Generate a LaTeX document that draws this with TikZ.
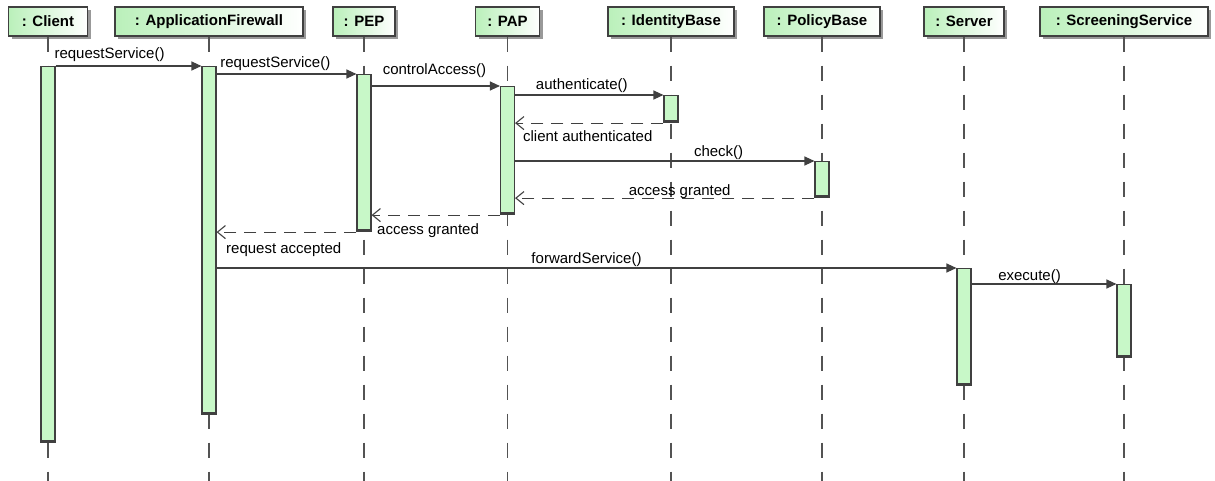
\documentclass[tikz,border=0pt]{standalone}
\usepackage{fontspec}
\setmainfont{Liberation Sans}
\usetikzlibrary{arrows.meta, shadows}
\definecolor{barGreen}{RGB}{200,248,200}
\definecolor{headGreen}{RGB}{186,240,186}
\definecolor{edgeGray}{RGB}{64,64,64}
\tikzset{
  object/.style={
    rectangle, minimum height=29pt, inner sep=0pt,
    draw=edgeGray, line width=1.1pt, left color=headGreen, right color=white,
    font=\fontsize{15pt}{17pt}\selectfont\bfseries,
    drop shadow={shadow xshift=3pt, shadow yshift=-3pt, fill=black!40, opacity=1}
  },
  lifeline/.style={draw=edgeGray!90, line width=1.2pt, dash pattern=on 15pt off 14pt},
  bar/.style={
    rectangle, anchor=north, minimum width=14pt, inner sep=0pt,
    draw=edgeGray, line width=1.1pt, fill=barGreen,
    path picture={\fill[edgeGray] ([yshift=2.5pt]path picture bounding box.south west)
      rectangle (path picture bounding box.south east);}
  },
  call/.style={draw=edgeGray, line width=1.1pt, -{Triangle[length=10pt, width=9pt]}},
  reply/.style={draw=edgeGray, line width=1.1pt, dash pattern=on 12pt off 8pt,
    -{Straight Barb[length=8pt, width=13pt]}},
  msg/.style={font=\fontsize{15pt}{17pt}\selectfont, anchor=base, inner sep=0pt}
}
\begin{document}
\begin{tikzpicture}[x=1pt, y=-1pt]
  \useasboundingbox (0,0) rectangle (1215,481);
  \coordinate (bottom) at (0,481);

  % objects
  \node[object, minimum width=79pt] (client) at (48,21.5) {: Client};
  \node[object, minimum width=188pt] (fw) at (209,21.5) {: ApplicationFirewall};
  \node[object, minimum width=62pt] (pep) at (364,21.5) {: PEP};
  \node[object, minimum width=64pt] (pap) at (507.5,21.5) {: PAP};
  \node[object, minimum width=126pt] (idb) at (671,21.5) {: IdentityBase};
  \node[object, minimum width=116pt] (pb) at (822,21.5) {: PolicyBase};
  \node[object, minimum width=80pt] (srv) at (964,21.5) {: Server};
  \node[object, minimum width=168pt] (scr) at (1124,21.5) {: ScreeningService};

  % lifelines
  \foreach \o in {client,fw,pep,pap,idb,pb,srv,scr}
    \draw[lifeline] (\o.south) -- (\o.south |- bottom);

  % activations
  \node[bar, minimum height=376pt] (cbar) at (48,66) {};
  \node[bar, minimum height=348pt] (fwbar) at (209,66) {};
  \node[bar, minimum height=157pt] (pepbar) at (364,74) {};
  \node[bar, minimum height=128pt] (papbar) at (507.5,86) {};
  \node[bar, minimum height=27pt] (idbar) at (671,95) {};
  \node[bar, minimum height=36pt] (pbbar) at (822,161) {};
  \node[bar, minimum height=117pt] (srvbar) at (964,268) {};
  \node[bar, minimum height=73pt] (scrbar) at (1124,284) {};

  % messages
  \draw[call] (cbar.north east) -- node[msg, pos=.37, yshift=7pt]{requestService()} (fwbar.north west);
  \draw[call] (fwbar.east |- pepbar.north) -- node[msg, pos=.42, yshift=6pt]{requestService()} (pepbar.north west);
  \draw[call] (pepbar.east |- papbar.north) -- node[msg, pos=.49, yshift=11pt]{controlAccess()} (papbar.north west);
  \draw[call] (papbar.east |- idbar.north) -- node[msg, pos=.45, yshift=5pt]{authenticate()} (idbar.north west);
  \draw[reply] (idbar.south west) -- node[msg, pos=.51, yshift=-18pt]{client authenticated} (papbar.east |- idbar.south);
  \draw[call] (papbar.east |- pbbar.north) -- node[msg, pos=.68, yshift=4pt]{check()} (pbbar.north west);
  \draw[reply] (pbbar.south west) -- node[msg, pos=.45, yshift=3pt]{access granted} (papbar.east |- pbbar.south);
  \draw[reply] (papbar.south west) -- node[msg, pos=.56, yshift=-19.5pt]{access granted} (pepbar.east |- papbar.south);
  \draw[reply] (pepbar.south west) -- node[msg, pos=.52, yshift=-21pt]{request accepted} (fwbar.east |- pepbar.south);
  \draw[call] (fwbar.east |- srvbar.north) -- node[msg, pos=.5, yshift=5pt]{forwardService()} (srvbar.north west);
  \draw[call] (srvbar.east |- scrbar.north) -- node[msg, pos=.40, yshift=4pt]{execute()} (scrbar.north west);
\end{tikzpicture}
\end{document}
